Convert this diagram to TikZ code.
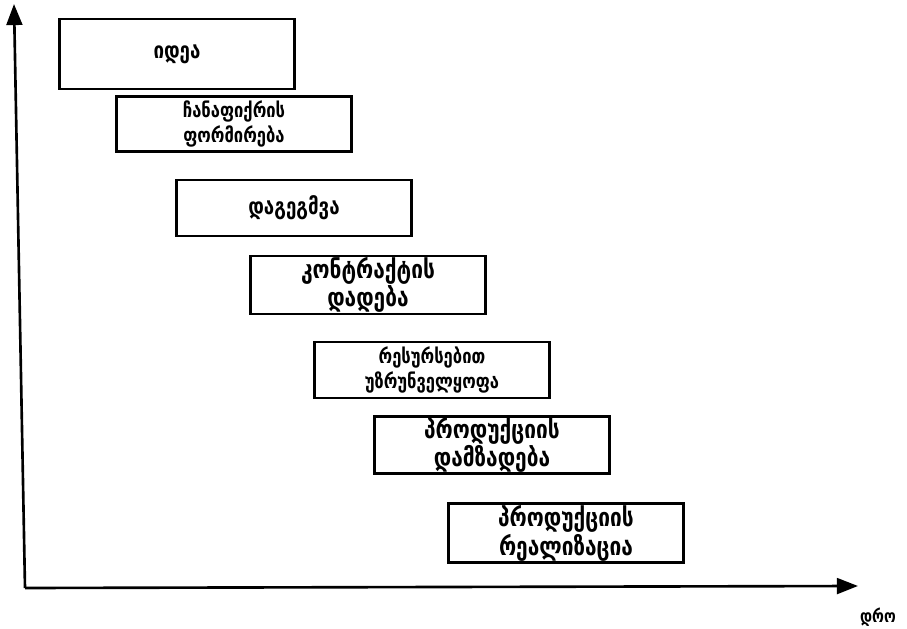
\documentclass[tikz,border=0pt]{standalone}
\usepackage{fontspec}
\newfontfamily\geofont[FakeStretch=0.82]{DejaVu Sans}
\usetikzlibrary{arrows.meta}

\begin{document}
\begin{tikzpicture}[x=0.02cm,y=-0.02cm,
    stage/.style={draw,line width=1.3pt,minimum width=4.7cm,inner sep=0pt,align=center,
      font=\geofont\bfseries\fontsize{#1}{14}\selectfont},
    stage/.default=11]
\useasboundingbox (0,0) rectangle (907,629);
\node[stage=13,minimum height=1.4cm] (idea) at (177,54) {იდეა};
\node[stage=11.5,minimum height=1.1cm] (form) at (234,124) {ჩანაფიქრის\\ფორმირება};
\node[stage=13,minimum height=1.12cm] (plan) at (294,208) {დაგეგმვა};
\node[stage=14.5,minimum height=1.16cm] (contr) at (368,285) {კონტრაქტის\\დადება};
\node[stage=11.5,minimum height=1.12cm] (res) at (432,370) {რესურსებით\\უზრუნველყოფა};
\node[stage=14.5,minimum height=1.14cm] (make) at (492,445) {პროდუქციის\\დამზადება};
\node[stage=14.5,minimum height=1.18cm] (sale) at (566,533) {პროდუქციის\\რეალიზაცია};
\coordinate (o) at (25,588);
\coordinate (ytop) at (14,4);
\coordinate (xend) at (858,586);
\draw[line width=1.5pt,-{Triangle[length=12pt,width=9pt]}] (o) -- (ytop);
\draw[line width=1.5pt,-{Triangle[length=12pt,width=9pt]}] (o) -- (xend);
\node[font=\geofont\bfseries\fontsize{10}{12}\selectfont] (time) at (878,617) {დრო};
\end{tikzpicture}
\end{document}
